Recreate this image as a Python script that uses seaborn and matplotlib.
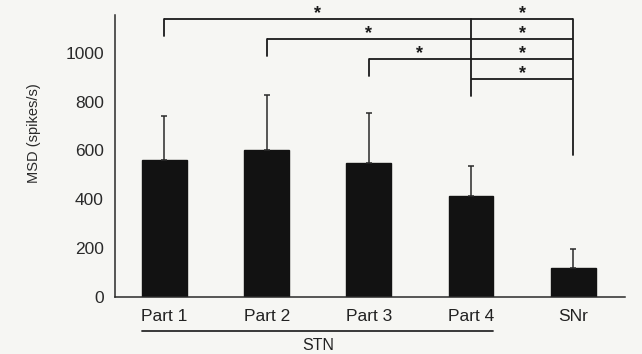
import matplotlib
matplotlib.use("Agg")
import matplotlib.pyplot as plt
import seaborn as sns
import pandas as pd

categories = ["Part 1", "Part 2", "Part 3", "Part 4", "SNr"]
msd_mean = [559, 603, 549, 413, 117]
msd_sd = [184, 226, 206, 125, 78]
yticks = [0, 200, 400, 600, 800, 1000]
comparisons = [(0, 4), (1, 4), (2, 4), (3, 4)]
group_label = "STN"

sns.set_theme(style="white")
plt.rcParams["font.family"] = ["Liberation Sans", "DejaVu Sans"]

bg = "#f6f6f3"
ink = "#1a1a1a"
fig = plt.figure(figsize=(6.42, 3.54), dpi=100, facecolor=bg)
ax = fig.add_axes([0.179, 0.162, 0.795, 0.796], facecolor=bg)

df = pd.DataFrame({"group": categories, "msd": msd_mean})
sns.barplot(data=df, x="group", y="msd", color="#121212", width=0.44,
            saturation=1, ax=ax, errorbar=None, edgecolor="#121212")
xs = list(range(len(categories)))
ax.errorbar(xs, msd_mean, yerr=[[0] * len(msd_sd), msd_sd], fmt="none",
            ecolor="#2a2a2a", elinewidth=1.1, capsize=2.5, capthick=1.1, zorder=3)

ax.set_xlim(-0.485, 4.51)
ax.set_ylim(0, 1156)
ax.set_yticks(yticks)
ax.set_yticklabels([str(t) for t in yticks], fontsize=12.5, color="#2a2a2a")
ax.tick_params(axis="y", direction="in", length=3, width=0.9, colors="#2a2a2a",
               labelcolor="#2a2a2a", pad=8)
ax.tick_params(axis="x", length=0, pad=9, labelsize=12.5, labelcolor="#222222")
ax.set_xlabel("")
ax.set_ylabel("MSD (spikes/s)", fontsize=10.5, color="#2a2a2a")
ax.yaxis.set_label_coords(-0.145, 0.58)
for s in ["top", "right"]:
    ax.spines[s].set_visible(False)
for s in ["left", "bottom"]:
    ax.spines[s].set_color("#2a2a2a")
    ax.spines[s].set_linewidth(1.1)

# significance brackets
lw = 1.3
last = len(categories) - 1
split = last - 1
top_y = 1138
step = 82
drop = 70
star_kw = dict(ha="center", va="center", fontsize=13, fontweight="bold",
               color=ink, clip_on=False)
for lev, (i, j) in enumerate(comparisons):
    yb = top_y - step * lev
    ax.plot([i, j], [yb, yb], color=ink, lw=lw, clip_on=False, solid_capstyle="butt")
    if i != split:
        ax.plot([i, i], [yb, yb - drop], color=ink, lw=lw, clip_on=False)
        ax.text((i + split) / 2, yb + 22, "*", **star_kw)
    ax.text((split + j) / 2, yb + 22, "*", **star_kw)
ax.plot([split, split], [top_y, top_y - step * (len(comparisons) - 1) - drop],
        color=ink, lw=lw, clip_on=False)
ax.plot([last, last], [top_y, 582], color=ink, lw=lw, clip_on=False)

# STN grouping line below labels
ax.plot([-0.22, 3.22], [-0.123, -0.123], transform=ax.get_xaxis_transform(),
        color="#2a2a2a", lw=1.3, clip_on=False)
ax.text(1.5, -0.172, group_label, transform=ax.get_xaxis_transform(), ha="center",
        va="center", fontsize=11.5, color="#222222")

fig.savefig("out.png", dpi=100, facecolor=bg)
